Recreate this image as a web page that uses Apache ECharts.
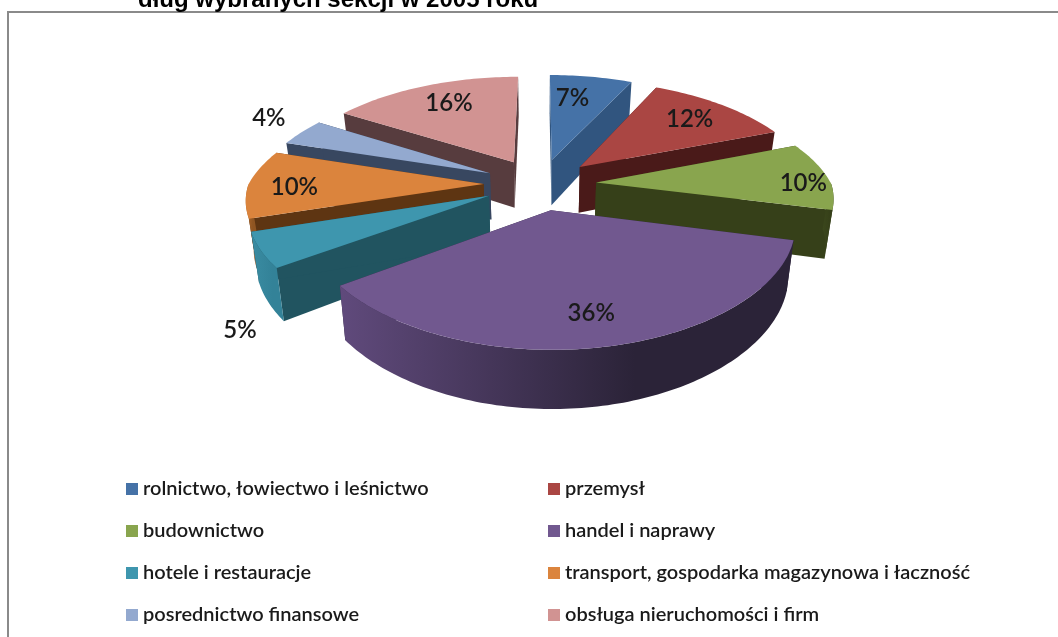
<!DOCTYPE html>
<html>
<head>
<meta charset="utf-8">
<style>
  html, body { margin: 0; padding: 0; background: #fff; }
  #chart { width: 1058px; height: 637px; }
</style>
<script src="https://cdn.jsdelivr.net/npm/echarts@6/dist/echarts.min.js"></script>
</head>
<body>
<div id="chart"></div>
<script>
const categories = [
  "rolnictwo, łowiectwo i leśnictwo",
  "przemysł",
  "budownictwo",
  "handel i naprawy",
  "hotele i restauracje",
  "transport, gospodarka magazynowa i łaczność",
  "posrednictwo finansowe",
  "obsługa nieruchomości i firm"
];
const shares = [7, 12, 10, 36, 5, 10, 4, 16];
const topColors = ["#4572a7", "#aa4643", "#89a54e", "#71588f", "#3e96ae", "#db843d", "#93a9cf", "#d19392"];
const wallColors = ["#31557f", "#4a1a19", "#364019", "#2e2540", "#215460", "#5e3512", "#384760", "#573c3e"];
const rimColors = [
  ["#31557f", "#31557f"], ["#4a1a19", "#4a1a19"], ["#3b471c", "#364019"], ["#604a7c", "#2b2338"],
  ["#3a8ca2", "#338298"], ["#b06a2e", "#8f5522"], ["#384760", "#384760"], ["#573c3e", "#573c3e"]
];
// how far out the label sits on the slice radius (1 = rim), then a pixel nudge
const labelRadius = [0.72, 0.7, 0.75, 0.6, 1.15, 0.72, 1.25, 0.72];
const labelShift = [[-9, 1], [7, -3], [34, 6], [10, 27], [16, 71], [-20, 3], [10, -5], [2, -2]];

// fake 3D projection, numbers fitted on the picture
const cx = 540, cy = 184, scaleX = 235, scaleY = 106.5, persp = 0.167, depth = 47, explode = 0.24;
const perspFront = 0.125, perspBack = 0.2, converge = 0.027;

function project(u, v, down) {
  const s = 1 / (1 - persp * v);
  const sx = 1 / (1 - (v > 0 ? perspFront : perspBack) * v);
  // side walls lean in a bit going down
  const x = scaleX * u * sx * (down ? 1 - converge : 1);
  return [cx + x, cy + scaleY * v * s + (down ? depth * s : 0)];
}

const total = shares.reduce((a, b) => a + b, 0);
let acc = 0;
const slices = shares.map(function (value, i) {
  const start = acc / total * Math.PI * 2;
  acc += value;
  const end = acc / total * Math.PI * 2;
  const mid = (start + end) / 2;
  return { i: i, value: value, start: start, end: end, mid: mid, ox: Math.sin(mid) * explode, oy: -Math.cos(mid) * explode };
});

function renderSlice(s) {
  const pt = function (a, r, down) {
    return project(s.ox + Math.sin(a) * r, s.oy - Math.cos(a) * r, down);
  };
  const arc = function (from, to, down) {
    const out = [];
    const steps = Math.max(2, Math.ceil((to - from) / 0.02));
    for (let k = 0; k <= steps; k++) out.push(pt(from + (to - from) * k / steps, 1, down));
    return out;
  };
  const children = [];
  const wall = function (a) {
    children.push({
      type: "polygon",
      shape: { points: [pt(0, 0, false), pt(a, 1, false), pt(a, 1, true), pt(0, 0, true)] },
      style: { fill: wallColors[s.i] }
    });
  };
  wall(s.start);
  wall(s.end);
  // outer rim, only the part facing us (between 90 and 270 deg)
  const from = Math.max(s.start, Math.PI / 2), to = Math.min(s.end, Math.PI * 1.5);
  if (to > from) {
    const upper = arc(from, to, false);
    const lower = arc(from, to, true).reverse();
    children.push({
      type: "polygon",
      shape: { points: upper.concat(lower) },
      style: {
        fill: new echarts.graphic.LinearGradient(0, 0, 1, 0, [
          { offset: 0, color: rimColors[s.i][0] },
          { offset: 0.65, color: rimColors[s.i][1] },
          { offset: 1, color: rimColors[s.i][1] }
        ])
      }
    });
  }
  children.push({
    type: "polygon",
    shape: { points: [pt(0, 0, false)].concat(arc(s.start, s.end, false)) },
    style: { fill: topColors[s.i] }
  });
  const lp = pt(s.mid, labelRadius[s.i], false);
  children.push({
    type: "text",
    x: lp[0] + labelShift[s.i][0], y: lp[1] + labelShift[s.i][1],
    style: {
      text: s.value + "%",
      fill: "#1a1a1a",
      font: "600 24px Lato",
      align: "center",
      verticalAlign: "middle"
    }
  });
  return { type: "group", children: children };
}

// back slices first so the front ones cover them
const drawOrder = slices.slice().sort(function (a, b) { return a.oy - b.oy; });

const chart = echarts.init(document.getElementById("chart"));
const legendText = { fontFamily: "Lato", fontSize: 20, fontWeight: 600, color: "#1a1a1a" };

chart.setOption({
  animation: false,
  title: {
    text: "dług wybranych sekcji w 2005 roku",
    left: 138,
    top: -12,
    padding: 0,
    textStyle: { fontFamily: "Liberation Sans", fontSize: 24, fontWeight: "bold", color: "#000" }
  },
  legend: [
    {
      orient: "vertical", left: 126, top: 479, itemGap: 22, padding: 0,
      itemWidth: 12, itemHeight: 12, icon: "rect", textStyle: legendText,
      data: [0, 2, 4, 6].map(function (i) { return categories[i]; })
    },
    {
      orient: "vertical", left: 548, top: 479, itemGap: 22, padding: 0,
      itemWidth: 12, itemHeight: 12, icon: "rect", textStyle: legendText,
      data: [1, 3, 5, 7].map(function (i) { return categories[i]; })
    }
  ],
  graphic: [{
    type: "rect",
    shape: { x: 8, y: 12, width: 1070, height: 640 },
    style: { fill: "none", stroke: "#8a8a8a", lineWidth: 2 },
    silent: true
  }],
  series: drawOrder.map(function (s) {
    return {
      type: "custom",
      name: categories[s.i],
      coordinateSystem: "none",
      itemStyle: { color: topColors[s.i] },
      data: [s.value],
      renderItem: function () { return renderSlice(s); }
    };
  })
});
</script>
</body>
</html>
